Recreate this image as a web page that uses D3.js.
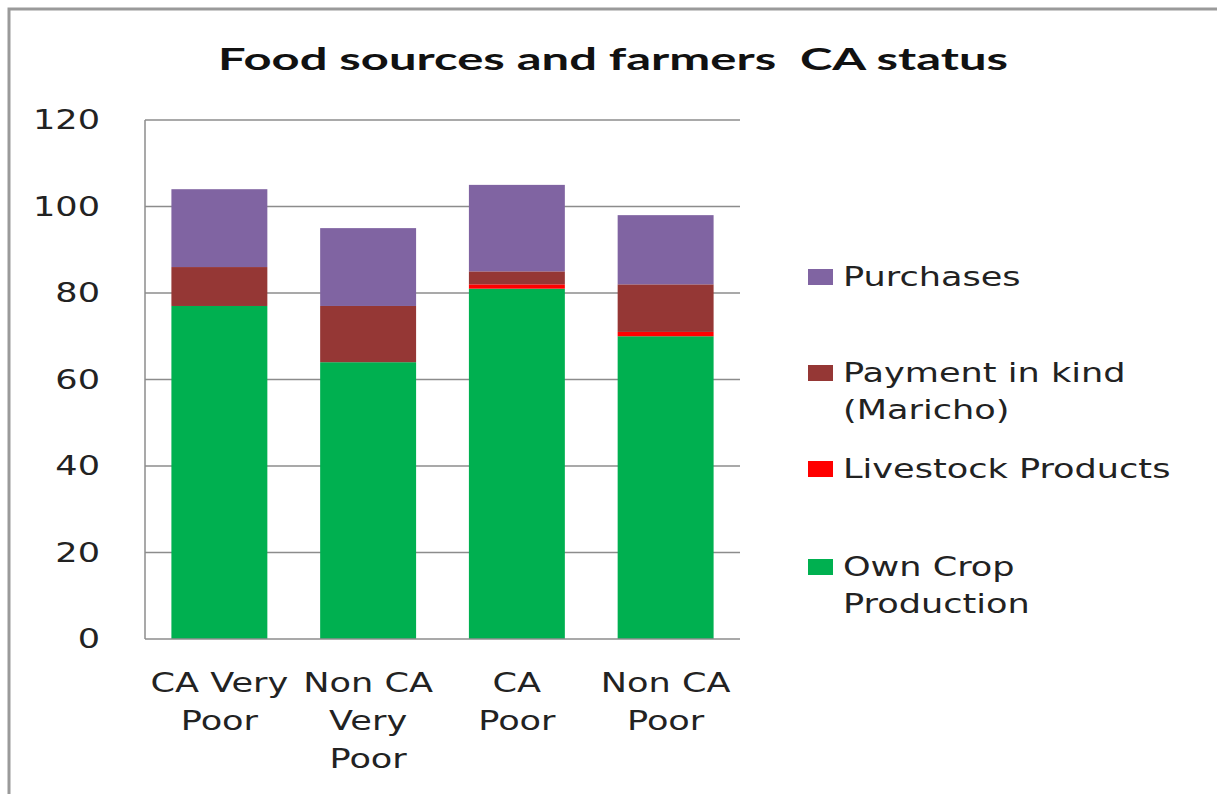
<!DOCTYPE html>
<html>
<head>
<meta charset="utf-8">
<script src="https://cdn.jsdelivr.net/npm/d3@7"></script>
<style>
  html, body { margin: 0; padding: 0; background: #ffffff; }
  svg { display: block; }
</style>
</head>
<body>
<svg id="chart" width="1217" height="794"></svg>
<script>
// Food sources by farmer group (stacked, bottom to top)
const categories = ["CA Very Poor", "Non CA Very Poor", "CA Poor", "Non CA Poor"];
const categoryLines = [["CA Very", "Poor"], ["Non CA", "Very", "Poor"], ["CA", "Poor"], ["Non CA", "Poor"]];
const seriesNames = ["Own Crop Production", "Livestock Products", "Payment in kind (Maricho)", "Purchases"];
const ownCrop = [77, 64, 81, 70];
const livestock = [0, 0, 1, 1];
const paymentInKind = [9, 13, 3, 11];
const purchases = [18, 18, 20, 16];
const yTicks = [0, 20, 40, 60, 80, 100, 120];
const colors = ["#00B050", "#FF0000", "#953735", "#8064A2"];

// Legend entries, listed top to bottom
const legendItems = [
  { lines: ["Purchases"], color: colors[3] },
  { lines: ["Payment in kind", "(Maricho)"], color: colors[2] },
  { lines: ["Livestock Products"], color: colors[1] },
  { lines: ["Own Crop", "Production"], color: colors[0] }
];

const svg = d3.select("#chart");
const FONT = "'DejaVu Sans', Verdana, sans-serif";
const SX = 1.35;   // horizontal stretch of label glyphs
const FS = 26;

// outer chart frame (only top and left edges fall inside the view)
svg.append("rect")
  .attr("x", 9).attr("y", 9)
  .attr("width", 1240).attr("height", 800)
  .attr("fill", "#ffffff")
  .attr("stroke", "#9a9a9a").attr("stroke-width", 3);

const plot = { left: 145, right: 740, top: 120, bottom: 639 };

const x = d3.scaleBand()
  .domain(categories)
  .range([plot.left, plot.right])
  .paddingInner(0.355)
  .paddingOuter(0.1775);

const y = d3.scaleLinear()
  .domain([0, 120])
  .range([plot.bottom, plot.top]);

// gridlines
svg.append("g")
  .selectAll("line")
  .data(yTicks.filter(t => t > 0))
  .join("line")
  .attr("x1", plot.left).attr("x2", plot.right)
  .attr("y1", d => y(d)).attr("y2", d => y(d))
  .attr("stroke", "#8c8c8c").attr("stroke-width", 1.5);

// stacked bars
const table = categories.map((c, i) => ({
  category: c,
  [seriesNames[0]]: ownCrop[i],
  [seriesNames[1]]: livestock[i],
  [seriesNames[2]]: paymentInKind[i],
  [seriesNames[3]]: purchases[i]
}));
const stacked = d3.stack().keys(seriesNames)(table);

svg.append("g")
  .selectAll("g")
  .data(stacked)
  .join("g")
  .attr("fill", (d, i) => colors[i])
  .selectAll("rect")
  .data(d => d)
  .join("rect")
  .attr("x", d => x(d.data.category))
  .attr("width", x.bandwidth())
  .attr("y", d => y(d[1]))
  .attr("height", d => y(d[0]) - y(d[1]));

// axes lines
svg.append("line")
  .attr("x1", plot.left).attr("x2", plot.left)
  .attr("y1", plot.top).attr("y2", plot.bottom)
  .attr("stroke", "#8c8c8c").attr("stroke-width", 1.5);
svg.append("line")
  .attr("x1", plot.left).attr("x2", plot.right)
  .attr("y1", plot.bottom).attr("y2", plot.bottom)
  .attr("stroke", "#8c8c8c").attr("stroke-width", 1.5);

// helper for horizontally stretched text
function stretchedText(parent, tx, ty, str, anchor) {
  parent.append("g")
    .attr("transform", `translate(${tx},${ty}) scale(${SX},1)`)
    .append("text")
    .attr("text-anchor", anchor)
    .attr("font-family", FONT)
    .attr("font-size", FS)
    .attr("fill", "#222222")
    .text(str);
}

// y tick labels
const yAxisG = svg.append("g");
yTicks.forEach(t => stretchedText(yAxisG, 100, y(t) + 9, String(t), "end"));

// category labels
const xAxisG = svg.append("g");
categories.forEach((c, i) => {
  const cx = x(c) + x.bandwidth() / 2;
  categoryLines[i].forEach((line, j) => stretchedText(xAxisG, cx, 692 + j * 38, line, "middle"));
});

// title
svg.append("text")
  .attr("x", 613).attr("y", 70)
  .attr("text-anchor", "middle")
  .attr("font-family", "Lato, 'Open Sans', sans-serif")
  .attr("font-weight", "bold")
  .attr("font-size", 31)
  .attr("textLength", 790)
  .attr("lengthAdjust", "spacingAndGlyphs")
  .attr("fill", "#111111")
  .style("white-space", "pre")
  .text("Food sources and farmers  CA status");

// legend
const legendG = svg.append("g");
const legendTops = [286, 382, 478, 576];
legendItems.forEach((item, i) => {
  const base = legendTops[i];
  legendG.append("rect")
    .attr("x", 808).attr("y", base - 17)
    .attr("width", 25).attr("height", 16)
    .attr("fill", item.color);
  item.lines.forEach((line, j) => stretchedText(legendG, 843, base + j * 37, line, "start"));
});
</script>
</body>
</html>
